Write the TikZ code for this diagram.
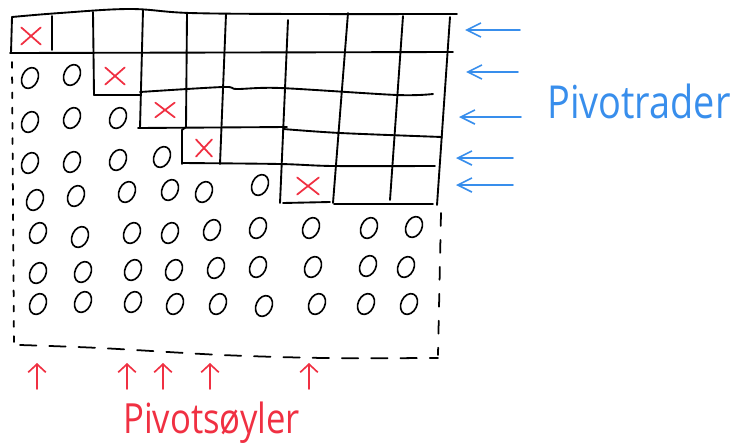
\documentclass[tikz,border=0pt]{standalone}
\usepackage{fontspec}
\setmainfont{Open Sans}
\usetikzlibrary{arrows.meta,shapes.misc,shapes.geometric}
\definecolor{penred}{RGB}{240,48,66}
\definecolor{penblue}{RGB}{56,142,236}
\begin{document}
\begin{tikzpicture}[x=0.03cm,y=-0.03cm,line cap=round,line join=round,
  gridline/.style={line width=1.6pt,black},
  pivx/.style={cross out,draw=penred,line width=1.5pt,inner sep=0pt,minimum width=15pt,minimum height=13pt},
  zero/.style={ellipse,draw=black,line width=1.4pt,inner sep=0pt,minimum width=13.5pt,minimum height=18.5pt,rotate=-25},
  border/.style={line width=1.5pt,black},
  redarrow/.style={draw=penred,line width=1.4pt,-{Straight Barb[length=7pt,width=15pt]}},
  bluearrow/.style={draw=penblue,line width=1.4pt,-{Straight Barb[length=12pt,width=12pt]}}]
\useasboundingbox (0,0) rectangle (733,443);

% --- grid (echelon staircase) ---
\draw[gridline] plot[smooth,tension=0.6] coordinates {(12,17) (60,13) (130,9) (190,13) (300,14) (457,14)};
\draw[gridline] (12,17) -- (11,53);
\draw[gridline] (10,53) -- (453,52);
\draw[gridline] (52,16) -- (52,50);
\draw[gridline] (93,12) -- (94,95);
\draw[gridline] (143,10) -- (140,128);
\draw[gridline] (187,14) -- (186,127) -- (182,130) -- (182,164);
\draw[gridline] (226,14) -- (220,164);
\draw[gridline] (288,20) -- (280,203);
\draw[gridline] (348,13) -- (333,203);
\draw[gridline] (403,16) -- (390,200);
\draw[gridline] (450,17) -- (437,205);
% row bottoms
\draw[gridline] (94,95) -- (140,95);
\draw[gridline] plot[smooth,tension=0.5] coordinates {(140,92) (223,87) (237,89) (280,88) (397,95) (433,94)};
\draw[gridline] (138,128) -- (287,127);
\draw[gridline] plot[smooth,tension=0.5] coordinates {(283,129) (340,133) (442,137)};
\draw[gridline] plot[smooth,tension=0.5] coordinates {(182,163) (280,164) (333,166) (435,166)};
\draw[gridline] (283,203) -- (330,202);
\draw[gridline] (334,204) -- (433,204);

% --- pivots ---
\node[pivx] (p1) at (31,36) {};
\node[pivx] (p2) at (115,76) {};
\node[pivx,minimum height=11pt] (p3) at (165,110) {};
\node[pivx,minimum width=12pt] (p4) at (204,148) {};
\node[pivx,minimum width=17pt] (p5) at (308,186) {};

% --- zeros ---
\foreach \x/\y [count=\i] in {30/78,72/75,
  30/122,72/118,118/118,
  30/163,72/162,118/160,162/157,
  35/200,76/196,127/192,170/190,204/192,260/185,
  38/233,80/237,132/233,170/233,212/230,258/228,311/228,369/228,414/227,
  38/273,83/272,133/270,174/270,216/268,258/267,313/267,368/266,406/267,
  38/304,83/302,133/302,175/304,218/304,264/306,317/304,366/304,409/304}
  \node[zero] (z\i) at (\x,\y) {};

% --- dashed border ---
\draw[border,dash pattern=on 5pt off 8pt] (12,62) -- (14,345);
\draw[border,dash pattern=on 14pt off 11pt] plot[smooth,tension=0.5] coordinates {(20,345) (100,348) (222,355) (325,358) (438,358)};
\draw[border,dash pattern=on 11pt off 12pt] (441,213) -- (438,355);

% --- pivot column arrows ---
\foreach \x [count=\i] in {37,127,163,210,309} {
  \coordinate (ca\i) at (\x,389);
  \coordinate (cb\i) at (\x,363);
  \draw[redarrow] (ca\i) -- (cb\i);
}
\node[anchor=base west,inner sep=0pt,text=penred] (coltext) at (123,433) {\resizebox{5.3cm}{!}{\scalebox{1}[1.2]{Pivotsøyler}}};

% --- pivot row arrows ---
\foreach \ya/\xa/\xb [count=\i] in {30/520/465,72/518/466,117/521/459,158/513/456,185/513/456} {
  \coordinate (ra\i) at (\xa,\ya);
  \coordinate (rb\i) at (\xb,\ya);
  \draw[bluearrow] (ra\i) -- (rb\i);
}
\node[anchor=base west,inner sep=0pt,text=penblue] (rowtext) at (547,118) {\resizebox{5.5cm}{!}{\scalebox{1}[1.2]{Pivotrader}}};
\end{tikzpicture}
\end{document}
